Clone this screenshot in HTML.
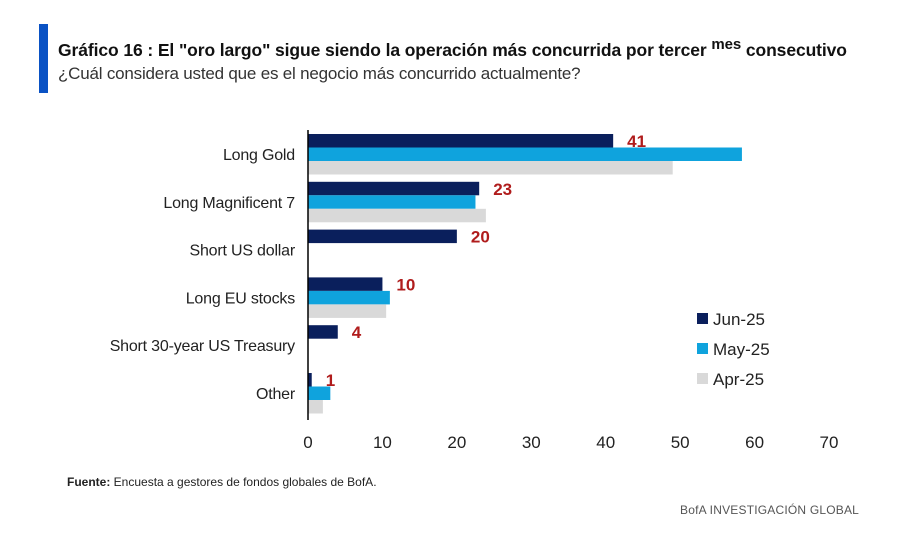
<!DOCTYPE html>
<html><head><meta charset="utf-8"><style>
body{margin:0;background:#fff;width:907px;height:552px;overflow:hidden;font-family:"Liberation Sans",sans-serif;position:relative}
.abs{position:absolute;white-space:nowrap}
</style></head><body>
<div class="abs" style="left:39px;top:24px;width:9px;height:69px;background:#0a52c4"></div>
<div class="abs" style="left:58px;top:36px;font-size:17.5px;font-weight:bold;color:#111;width:800px;overflow:hidden;letter-spacing:-0.1px">Gráfico 16 : El "oro largo" sigue siendo la operación más concurrida por tercer <sup style="font-size:15px">mes</sup> consecutivo</div>
<div class="abs" style="left:58px;top:64px;font-size:17px;color:#333;letter-spacing:-0.2px">¿Cuál considera usted que es el negocio más concurrido actualmente?</div>
<svg id="chart" class="abs" style="left:0;top:0" width="907" height="552"></svg>
<div class="abs" style="left:67px;top:475px;font-size:12px;color:#222"><b>Fuente:</b> Encuesta a gestores de fondos globales de BofA.</div>
<div class="abs" style="left:680px;top:503px;font-size:12px;color:#555;letter-spacing:0.2px">BofA INVESTIGACIÓN GLOBAL</div>
<script>
const categories=["Long Gold","Long Magnificent 7","Short US dollar","Long EU stocks","Short 30-year US Treasury","Other"];
const jun=[41,23,20,10,4,0.5];
const may=[58.3,22.5,null,11,null,3];
const apr=[49,23.9,null,10.5,null,2];
const junLabels=["41","23","20","10","4","1"];
const ticks=[0,10,20,30,40,50,60,70];
const seriesNames=["Jun-25","May-25","Apr-25"];
const colors=["#0a1f5c","#0fa3dd","#d9d9d9"];
const svg=document.getElementById('chart');const NS="http://www.w3.org/2000/svg";
const x=v=>308+v*7.443;const gy=i=>134+i*47.8;const bh=13.5;
function mk(t,a,p){const e=document.createElementNS(NS,t);for(const k in a)e.setAttribute(k,a[k]);(p||svg).appendChild(e);return e;}
[jun,may,apr].forEach((s,si)=>{s.forEach((v,i)=>{if(v==null)return;const r=mk('rect',{x:x(0),y:gy(i)+si*bh,width:x(v)-x(0),height:bh,fill:colors[si]});

});});
categories.forEach((c,i)=>{const t=mk('text',{x:295,y:gy(i)+26,'text-anchor':'end','font-size':16,fill:'#222','font-family':'Liberation Sans','letter-spacing':'-0.2'});t.textContent=c;


const l=mk('text',{x:x(jun[i])+14,y:gy(i)+13,'font-size':17,'font-weight':'bold',fill:'#b01c1c','font-family':'Liberation Sans'});l.textContent=junLabels[i];

});
const ax=mk('line',{x1:308,y1:130,x2:308,y2:420,stroke:'#000','stroke-width':1.5});


ticks.forEach(v=>{const t=mk('text',{x:x(v),y:448,'text-anchor':'middle','font-size':17,fill:'#222','font-family':'Liberation Sans'});t.textContent=v;

});
seriesNames.forEach((n,i)=>{const g=mk('g',{});


mk('rect',{x:697,y:313+i*30,width:11,height:11,fill:colors[i]},g);
const t=mk('text',{x:713,y:325+i*30,'font-size':17,fill:'#222','font-family':'Liberation Sans'},g);t.textContent=n;});
</script>
</body></html>
